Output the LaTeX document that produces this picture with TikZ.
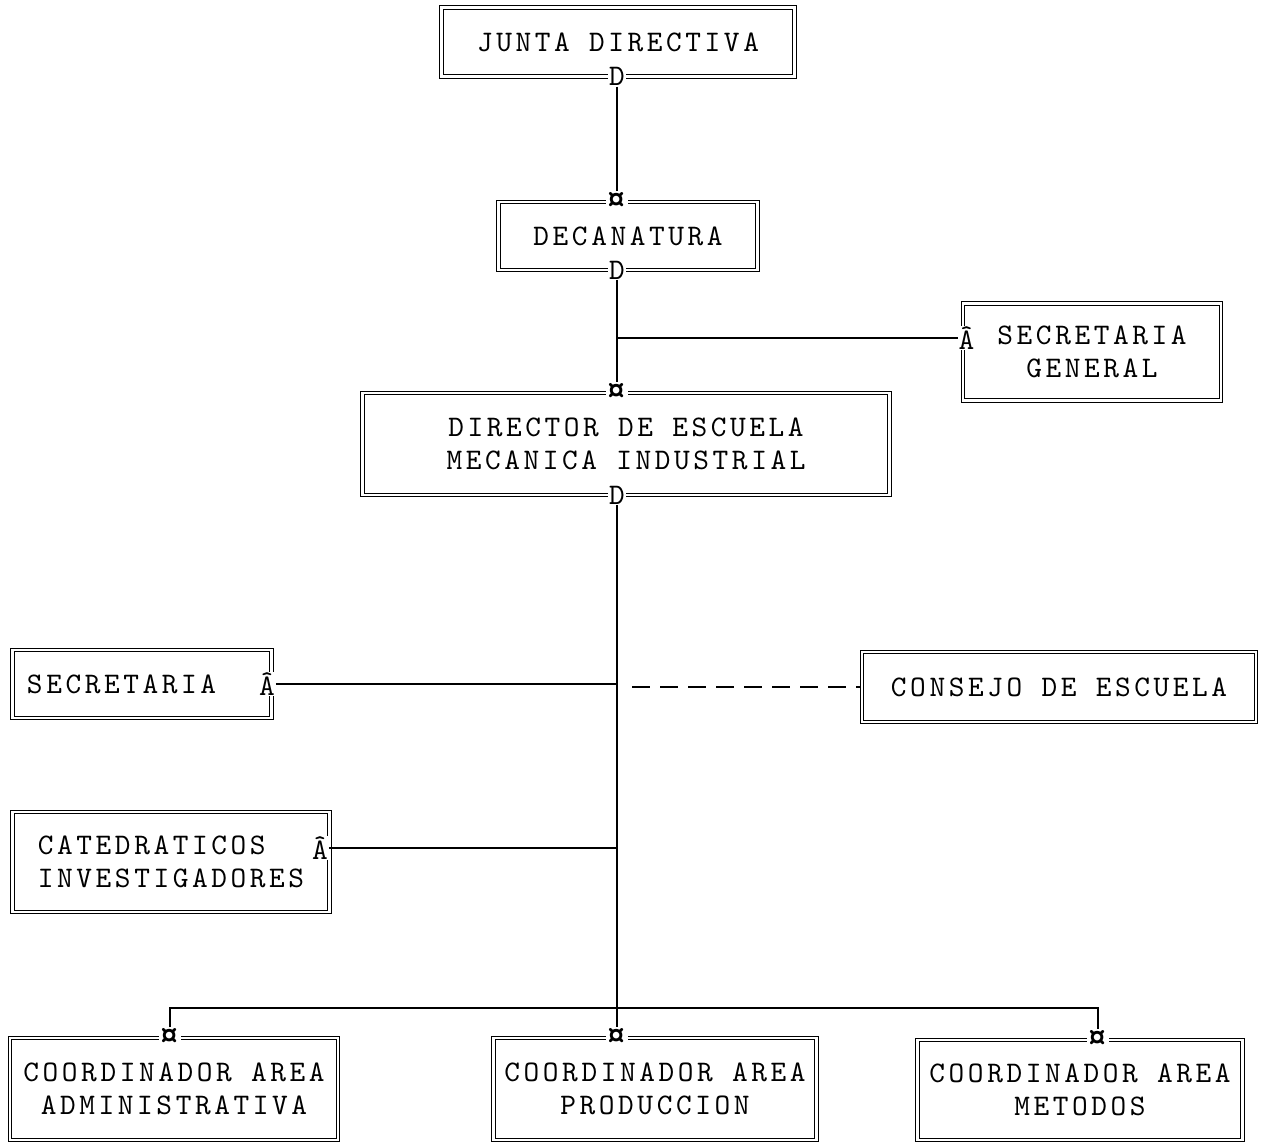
\documentclass[tikz,border=0pt]{standalone}
\usepackage{fontspec}
\usetikzlibrary{positioning,calc}

\newfontfamily\typerfont{lmmono10-regular.otf}[LetterSpace=12.0]
\newfontfamily\jointtt{lmmono10-regular.otf}
\newcommand{\typefont}{\typerfont\fontsize{17}{19}\selectfont}
\newcommand{\jointfont}{\jointtt\fontsize{17}{18}\selectfont}

\begin{document}
\begin{tikzpicture}[
			font=\typefont,
			unit/.style={
				rectangle, draw=black, line width=0.6pt,
				double, double distance=1.6pt, fill=white,
				align=center, inner sep=2pt
			},
			joint/.style={fill=white, inner sep=0.4pt, font=\jointfont},
			cross/.style={joint, font=\jointtt\fontsize{24}{24}\selectfont, inner sep=0pt},
			link/.style={line width=1pt, black},
			advice/.style={line width=1pt, black, dash pattern=on 0.36cm off 0.2cm}
			]
			
			\useasboundingbox (0,0) rectangle (25.28,-22.84);
			
			%% ── Top of the chain (spine at x=12.34) ─────────────────────────────
			\node[unit, minimum width=7.06cm, minimum height=1.38cm] (junta) at (12.36,-0.84) {JUNTA DIRECTIVA};
			\node[unit, minimum width=5.18cm, minimum height=1.36cm] (decan) at (12.56,-4.72) {DECANATURA};
			\node[unit, minimum width=10.54cm, minimum height=2.04cm] (director) at (12.52,-8.88) {
				DIRECTOR DE ESCUELA\\
				MECANICA INDUSTRIAL
			};
			
			%% ── Staff boxes ─────────────────────────────────────────────────────
			\node[unit, minimum width=5.16cm, minimum height=1.94cm] (secgen) at (21.84,-7.04) {
				SECRETARIA\\
				GENERAL
			};
			\node[unit, minimum width=5.18cm, minimum height=1.36cm, text width=4.6cm, align=left] (secre) at (2.84,-13.68) {SECRETARIA};
			\node[unit, minimum width=7.88cm, minimum height=1.40cm] (consejo) at (21.18,-13.74) {CONSEJO DE ESCUELA};
			\node[unit, minimum width=6.34cm, minimum height=2.0cm, align=left] (catedr) at (3.42,-17.24) {
				CATEDRATICOS\\
				INVESTIGADORES
			};
			
			%% ── Coordinators (bottom row) ───────────────────────────────────────
			\node[unit, minimum width=6.56cm, minimum height=2.04cm] (cadmin) at (3.48,-21.78) {
				COORDINADOR AREA\\
				ADMINISTRATIVA
			};
			\node[unit, minimum width=6.46cm, minimum height=2.04cm] (cprod) at (13.10,-21.78) {
				COORDINADOR AREA\\
				PRODUCCION
			};
			\node[unit, minimum width=6.5cm, minimum height=2.0cm] (cmetod) at (21.60,-21.80) {
				COORDINADOR AREA\\
				METODOS
			};
			
			%% ── Joints on the borders ───────────────────────────────────────────
			\node[joint] (juntaD)  at (12.34,-1.53) {D};
			\node[cross] (decanQ)  at (12.34,-4.04) {¤};
			\node[joint] (decanD)  at (12.34,-5.40) {D};
			\node[cross] (dirQ)    at (12.34,-7.86) {¤};
			\node[joint] (dirD)    at (12.34,-9.90) {D};
			\node[joint] (secgenA) at ([shift={(0.08,0.28)}]secgen.west) {Â};
			\node[joint] (secreA)  at ([xshift=-0.1cm]secre.east) {Â};
			\node[joint] (catedrA) at ([shift={(-0.2,0.28)}]catedr.east) {Â};
			\node[cross] (cadminQ) at (3.40,-20.76) {¤};
			\node[cross] (cprodQ)  at (12.34,-20.76) {¤};
			\node[cross] (cmetodQ) at (21.96,-20.80) {¤};
			
			%% ── Line of authority ───────────────────────────────────────────────
			\draw[link] (juntaD) -- (decanQ);
			\draw[link] (decanD) -- (dirQ);
			\draw[link] (dirD) -- (cprodQ);
			
			%% Staff branches off the spine
			\draw[link] (decanD |- secgenA) -- (secgenA);
			\draw[link] (secreA) -- (dirD |- secreA);
			\draw[link] (catedrA) -- (dirD |- catedrA);
			\draw[advice] ([xshift=0.3cm]dirD |- consejo.west) -- (consejo.west);
			
			%% Bus to the coordinators
			\coordinate (bus) at (12.34,-20.16);
			\draw[link] (cadminQ) |- (bus) -| (cmetodQ);
			
		\end{tikzpicture}
\end{document}
